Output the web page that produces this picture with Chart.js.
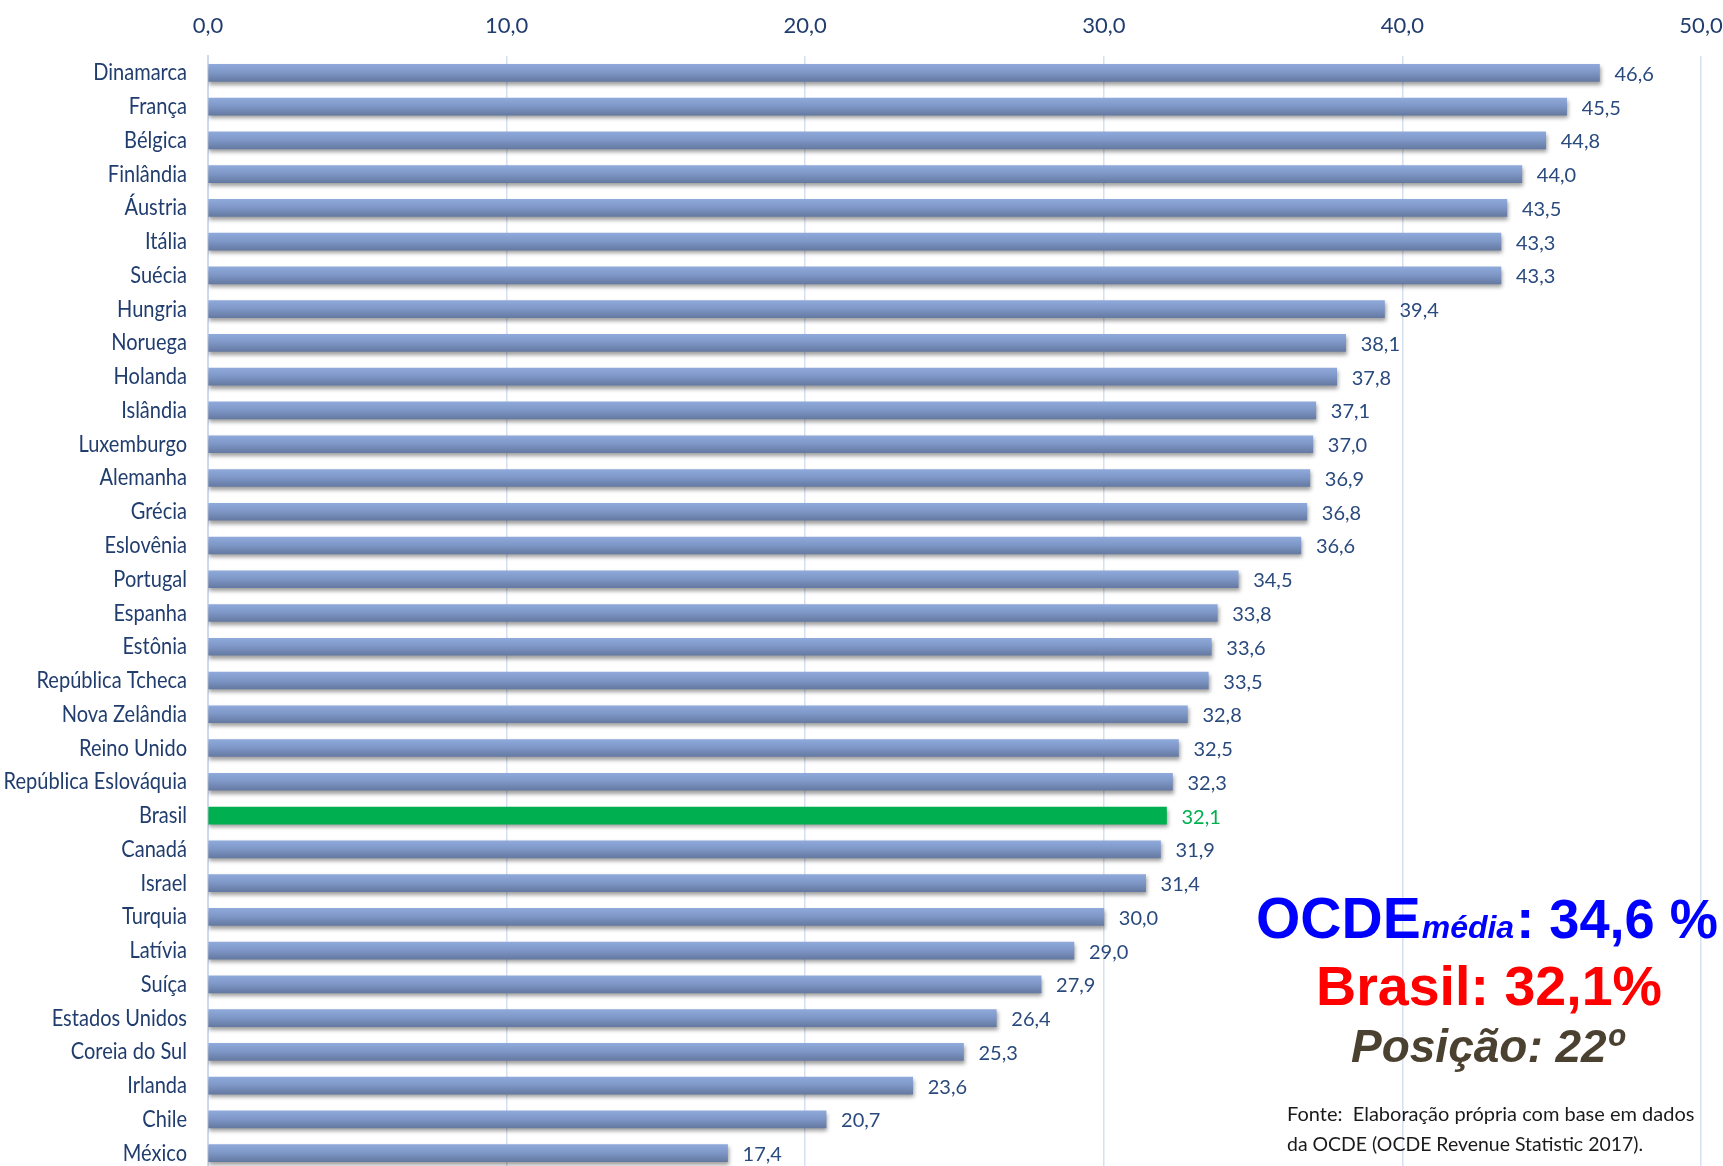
<!DOCTYPE html>
<html>
<head>
<meta charset="utf-8">
<script src="https://cdn.jsdelivr.net/npm/chart.js@4.4.1/dist/chart.umd.min.js"></script>
<style>
  html, body { margin: 0; padding: 0; background: #ffffff; overflow: hidden; }
  #wrap { width: 1723px; height: 1166px; overflow: hidden; position: relative; }
  canvas { display: block; }
</style>
</head>
<body>
<div id="wrap"><canvas id="c" width="1723" height="1170"></canvas></div>
<script>
// ---- data ----
const countries = ["Dinamarca","França","Bélgica","Finlândia","Áustria","Itália","Suécia","Hungria","Noruega","Holanda","Islândia","Luxemburgo","Alemanha","Grécia","Eslovênia","Portugal","Espanha","Estônia","República Tcheca","Nova Zelândia","Reino Unido","República Eslováquia","Brasil","Canadá","Israel","Turquia","Latívia","Suíça","Estados Unidos","Coreia do Sul","Irlanda","Chile","México"];
const taxBurden = [46.6,45.5,44.8,44.0,43.5,43.3,43.3,39.4,38.1,37.8,37.1,37.0,36.9,36.8,36.6,34.5,33.8,33.6,33.5,32.8,32.5,32.3,32.1,31.9,31.4,30.0,29.0,27.9,26.4,25.3,23.6,20.7,17.4];
const highlightCountry = "Brasil";
const axisMin = 0, axisMax = 50, axisStep = 10;
const ocdeLabel = "OCDE", ocdeSub = "média", ocdeValue = ": 34,6 %";
const brasilText = "Brasil: 32,1%";
const posicaoText = "Posição: 22º";
const sourceLines = ["Fonte:  Elaboração própria com base em dados", "da OCDE (OCDE Revenue Statistic 2017)."];

const fmt = v => v.toFixed(1).replace('.', ',');
const GREEN = '#00B050';
const NAVY = '#213D6E';

function barFill(ctx) {
  const chart = ctx.chart;
  if (countries[ctx.dataIndex] === highlightCountry) return GREEN;
  const ys = chart.scales && chart.scales.y;
  if (!ys || !chart.chartArea) return '#7F97C7';
  const yc = ys.getPixelForValue(ctx.dataIndex);
  const h = 17;
  const g = chart.ctx.createLinearGradient(0, yc - h / 2, 0, yc + h / 2);
  g.addColorStop(0, '#8EA9DA');
  g.addColorStop(0.45, '#7F98C8');
  g.addColorStop(1, '#657AA2');
  return g;
}

// condensed category labels, positioned by the y scale
const categoryLabelPlugin = {
  id: 'catLabels',
  afterDraw(chart) {
    const ys = chart.scales.y;
    const c = chart.ctx;
    c.save();
    c.font = "24px Lato, 'Open Sans', sans-serif";
    c.fillStyle = NAVY;
    c.textAlign = 'right';
    c.textBaseline = 'alphabetic';
    ys.ticks.forEach((t, i) => {
      const y = ys.getPixelForTick(i);
      c.save();
      c.translate(ys.right - 21, y + 7.5);
      c.scale(0.835, 1);
      c.fillText(ys.getLabelForValue(t.value), 0, 0);
      c.restore();
    });
    c.restore();
  }
};

const shadowPlugin = {
  id: 'barShadow',
  beforeDatasetsDraw(chart) {
    const c = chart.ctx;
    c.save();
    c.shadowColor = 'rgba(0,0,0,0.38)';
    c.shadowBlur = 4;
    c.shadowOffsetX = 1;
    c.shadowOffsetY = 3;
  },
  afterDatasetsDraw(chart) {
    chart.ctx.restore();
    const c = chart.ctx;
    const meta = chart.getDatasetMeta(0);
    c.save();
    c.font = "20px Lato, 'Open Sans', sans-serif";
    c.textAlign = 'left';
    c.textBaseline = 'alphabetic';
    meta.data.forEach((el, i) => {
      c.fillStyle = countries[i] === highlightCountry ? GREEN : '#2A4A7E';
      c.fillText(fmt(taxBurden[i]), el.x + 15, el.y + 8);
    });
    c.restore();
  }
};

const notesPlugin = {
  id: 'notes',
  afterDraw(chart) {
    const c = chart.ctx;
    c.save();
    c.textAlign = 'left';
    c.textBaseline = 'alphabetic';
    let x = 1256;
    c.fillStyle = '#0000FF';
    c.font = "bold 57px 'Liberation Sans', Arial, sans-serif";
    c.fillText(ocdeLabel, x, 938);
    x += c.measureText(ocdeLabel).width + 1;
    c.font = "italic bold 32px 'Liberation Sans', Arial, sans-serif";
    c.fillText(ocdeSub, x, 938);
    x += c.measureText(ocdeSub).width + 2;
    c.font = "bold 56px 'Liberation Sans', Arial, sans-serif";
    c.fillText(ocdeValue, x, 938, 1718 - x);
    c.fillStyle = '#FF0000';
    c.font = "bold 56px 'Liberation Sans', Arial, sans-serif";
    c.fillText(brasilText, 1316, 1005, 346);
    c.fillStyle = '#4B4130';
    c.font = "italic bold 46px 'Liberation Sans', Arial, sans-serif";
    c.fillText(posicaoText, 1351, 1062, 280);
    c.fillStyle = '#1A1A1A';
    c.font = "20px Lato, 'Open Sans', sans-serif";
    c.fillText(sourceLines[0], 1287, 1121, 412);
    c.fillText(sourceLines[1], 1287, 1151, 356);
    c.restore();
  }
};

new Chart(document.getElementById('c'), {
  type: 'bar',
  data: {
    labels: countries,
    datasets: [{
      data: taxBurden,
      backgroundColor: barFill,
      borderWidth: 0,
      barThickness: 17
    }]
  },
  options: {
    indexAxis: 'y',
    responsive: false,
    animation: false,
    events: [],
    layout: { padding: { left: 0, right: 22, top: 0, bottom: 0 } },
    plugins: { legend: { display: false }, tooltip: { enabled: false } },
    scales: {
      x: {
        position: 'top',
        min: axisMin, max: axisMax,
        ticks: {
          stepSize: axisStep,
          color: NAVY,
          font: { family: "Lato, 'Open Sans', sans-serif", size: 22 },
          padding: 17,
          callback: v => fmt(v)
        },
        grid: { color: '#D6E0F0', lineWidth: 1.5, drawTicks: false },
        border: { display: false },
        afterFit: s => { s.height = 56; s.paddingLeft = 0; s.paddingRight = 0; }
      },
      y: {
        ticks: { display: false },
        grid: { display: false, drawTicks: false },
        border: { display: true, color: '#CCD8EC', width: 2 },
        afterFit: s => { s.width = 208; s.paddingTop = 0; s.paddingBottom = 0; }
      }
    }
  },
  plugins: [shadowPlugin, categoryLabelPlugin, notesPlugin]
});
</script>
</body>
</html>
